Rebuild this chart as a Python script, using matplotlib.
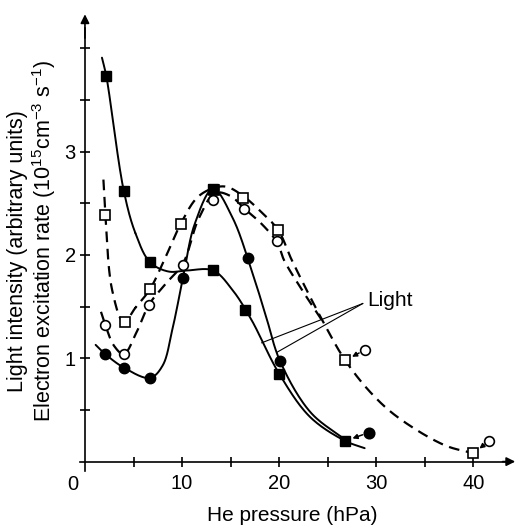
import numpy as np
import matplotlib
matplotlib.use("Agg")
import matplotlib.pyplot as plt

plt.rcParams["font.family"] = ["Liberation Sans", "DejaVu Sans"]
plt.rcParams["mathtext.fontset"] = "custom"
plt.rcParams["mathtext.rm"] = "Liberation Sans"
plt.rcParams["mathtext.it"] = "Liberation Sans"

# ---- measured points (He pressure in hPa, value) ----
# filled squares (light, solid curve A)
sq_f_x = [2.2, 4.0, 6.7, 13.2, 16.5, 20.0, 26.8]
sq_f_y = [3.73, 2.62, 1.93, 1.85, 1.47, 0.85, 0.20]
# filled circles (light, solid curve B)
ci_f_x = [2.1, 4.0, 6.7, 10.1, 16.8, 20.1]
ci_f_y = [1.04, 0.91, 0.81, 1.78, 1.97, 0.97]
peak_f_x = [13.2]
peak_f_y = [2.64]
# open squares (excitation rate, dashed curve C)
sq_o_x = [2.1, 4.1, 6.7, 9.9, 13.3, 16.3, 19.9, 26.8, 40.0]
sq_o_y = [2.39, 1.35, 1.67, 2.30, 2.63, 2.55, 2.24, 0.98, 0.08]
# open circles (excitation rate, dashed curve D)
ci_o_x = [2.1, 4.0, 6.6, 10.1, 13.2, 16.4, 19.8]
ci_o_y = [1.32, 1.04, 1.52, 1.90, 2.53, 2.45, 2.14]

# shifted points with arrows: (circle x, circle y, square x, square y, filled)
shifted = [
    (29.2, 0.28, 26.8, 0.20, True),
    (28.8, 1.08, 26.8, 0.98, False),
    (41.6, 0.20, 40.0, 0.08, False),
]

# ---- hand drawn curves (knots) ----
curve_a_x = [1.75, 2.2, 4.0, 5.2, 6.7, 8.6, 10.5, 13.2, 15.2, 17.1, 20.0, 23.2, 26.8, 28.8]
curve_a_y = [3.91, 3.73, 2.62, 2.21, 1.93, 1.84, 1.85, 1.85, 1.66, 1.38, 0.85, 0.43, 0.20, 0.13]
curve_b_x = [1.1, 2.1, 4.0, 6.7, 8.0, 9.0, 10.1, 11.3, 13.2, 15.2, 17.1, 18.6, 20.1, 23.2, 26.8]
curve_b_y = [1.13, 1.04, 0.91, 0.81, 0.93, 1.28, 1.78, 2.30, 2.64, 2.36, 1.87, 1.42, 0.97, 0.48, 0.21]
curve_c_x = [1.9, 2.1, 2.8, 4.0, 5.2, 6.7, 8.3, 9.9, 11.6, 13.3, 14.6, 16.3, 18.0, 19.9, 21.3, 24.6, 26.8, 29.5, 32.2, 37.0, 40.0]
curve_c_y = [2.73, 2.39, 1.66, 1.35, 1.49, 1.67, 1.98, 2.31, 2.56, 2.65, 2.66, 2.57, 2.43, 2.24, 1.95, 1.34, 0.98, 0.66, 0.43, 0.16, 0.08]
curve_d_x = [1.65, 2.1, 3.0, 4.0, 5.3, 6.6, 8.3, 10.1, 11.7, 13.4, 15.0, 16.4, 18.2, 19.8, 20.5, 22.5, 24.6]
curve_d_y = [1.45, 1.32, 1.12, 1.04, 1.25, 1.52, 1.72, 1.92, 2.35, 2.60, 2.57, 2.45, 2.30, 2.12, 1.95, 1.64, 1.34]

YSCALE = 10.6  # pixel aspect of one y unit vs one x unit


def smooth(xs, ys, n=25, alpha=0.5):
    """centripetal Catmull-Rom through the knots"""
    p = np.column_stack([xs, np.array(ys) * YSCALE])
    p = np.vstack([2 * p[0] - p[1], p, 2 * p[-1] - p[-2]])
    out = []
    for i in range(1, len(p) - 2):
        p0, p1, p2, p3 = p[i - 1], p[i], p[i + 1], p[i + 2]
        t0 = 0.0
        t1 = t0 + np.linalg.norm(p1 - p0) ** alpha
        t2 = t1 + np.linalg.norm(p2 - p1) ** alpha
        t3 = t2 + np.linalg.norm(p3 - p2) ** alpha
        t = np.linspace(t1, t2, n)[:, None]
        a1 = (t1 - t) / (t1 - t0) * p0 + (t - t0) / (t1 - t0) * p1
        a2 = (t2 - t) / (t2 - t1) * p1 + (t - t1) / (t2 - t1) * p2
        a3 = (t3 - t) / (t3 - t2) * p2 + (t - t2) / (t3 - t2) * p3
        b1 = (t2 - t) / (t2 - t0) * a1 + (t - t0) / (t2 - t0) * a2
        b2 = (t3 - t) / (t3 - t1) * a2 + (t - t1) / (t3 - t1) * a3
        c = (t2 - t) / (t2 - t1) * b1 + (t - t1) / (t2 - t1) * b2
        out.append(c)
    out = np.vstack(out)
    return out[:, 0], out[:, 1] / YSCALE


fig = plt.figure(figsize=(5.16, 5.25), dpi=100)
ax = fig.add_axes([80.1 / 516, 1 - 470.9 / 525, (515.2 - 80.1) / 516, (470.9 - 1.9) / 525])
ax.set_xlim(-0.5, 44.3)
ax.set_ylim(-0.09, 4.45)

solid = dict(color="black", lw=1.4, solid_capstyle="round", zorder=2)
dashed = dict(color="black", lw=1.6, dashes=(4.8, 3.0), zorder=2)
ax.plot(*smooth(curve_a_x, curve_a_y), **solid)
ax.plot(*smooth(curve_b_x, curve_b_y), **solid)
ax.plot(*smooth(curve_c_x, curve_c_y), **dashed)
ax.plot(*smooth(curve_d_x, curve_d_y), **dashed)

ax.plot(sq_o_x, sq_o_y, "s", ms=7.5, mfc="white", mec="black", mew=1.2, zorder=4)
ax.plot(ci_o_x, ci_o_y, "o", ms=7, mfc="white", mec="black", mew=1.2, zorder=4)
ax.plot(sq_f_x, sq_f_y, "s", ms=7.5, color="black", zorder=5)
ax.plot(ci_f_x, ci_f_y, "o", ms=7.5, color="black", zorder=5)
ax.plot(peak_f_x, peak_f_y, "s", ms=7.5, color="black", zorder=5)

for cx, cy, sx, sy, filled in shifted:
    ax.plot([cx], [cy], "o", ms=7 if not filled else 7.5,
            mfc="black" if filled else "white", mec="black", mew=1.2, zorder=5)
    ax.annotate("", xy=(sx, sy), xytext=(cx, cy),
                arrowprops=dict(arrowstyle="-|>", color="black", lw=1.1,
                                mutation_scale=7, shrinkA=4.5, shrinkB=5.5),
                zorder=5)

# "Light" label with leader lines
ax.text(29.1, 1.56, "Light", fontsize=15, ha="left", va="center")
ax.plot([28.6, 18.2], [1.53, 1.15], color="black", lw=0.8)
ax.plot([28.6, 19.8], [1.53, 1.06], color="black", lw=0.8)

# axes drawn as arrows through the origin
for s in ["top", "right"]:
    ax.spines[s].set_visible(False)
ax.spines["left"].set_position(("data", 0))
ax.spines["bottom"].set_position(("data", 0))
ax.spines["left"].set_bounds(-0.09, 4.2)
ax.spines["bottom"].set_bounds(-0.5, 43.5)
ax.spines["left"].set_linewidth(1.2)
ax.spines["bottom"].set_linewidth(1.2)
ax.annotate("", xy=(0, 4.33), xytext=(0, 4.1),
            arrowprops=dict(arrowstyle="-|>", color="black", lw=1.2, mutation_scale=13, shrinkA=0, shrinkB=0))
ax.annotate("", xy=(44.3, 0), xytext=(43.0, 0),
            arrowprops=dict(arrowstyle="-|>", color="black", lw=1.2, mutation_scale=13, shrinkA=0, shrinkB=0))

ax.set_xticks([5, 10, 15, 20, 25, 30, 35, 40])
ax.set_xticklabels(["", "10", "", "20", "", "30", "", "40"])
ax.set_yticks([0.5, 1, 1.5, 2, 2.5, 3, 3.5, 4])
ax.set_yticklabels(["", "1", "", "2", "", "3", "", ""])
ax.tick_params(direction="inout", length=7, width=1.2, labelsize=14.5)
ax.tick_params(axis="x", pad=5.5)
ax.tick_params(axis="y", pad=3)
ax.annotate("0", xy=(0, 0), xytext=(-8.5, -9.5), textcoords="offset points",
            ha="center", va="top", fontsize=14.5)

fig.text(292 / 516, 1 - 521 / 525, "He pressure (hPa)", fontsize=15, ha="center", va="baseline")
fig.text(18 / 516, 1 - 251 / 525, "Light intensity (arbitrary units)", fontsize=15.5,
         rotation=90, ha="center", va="center")
fig.text(44 / 516, 1 - 241 / 525,
         r"Electron excitation rate (10$^{15}$cm$^{-3}$ s$^{-1}$)", fontsize=15.5,
         rotation=90, ha="center", va="center")

fig.savefig("out.png", dpi=100)
